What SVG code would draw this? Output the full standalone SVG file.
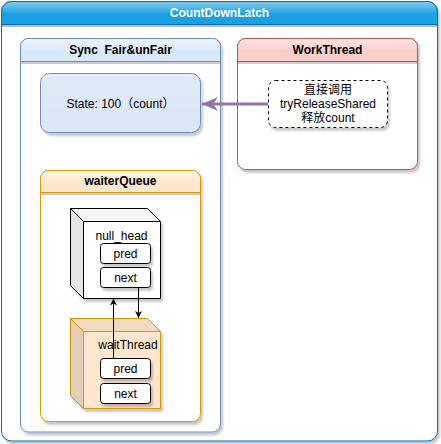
<svg xmlns="http://www.w3.org/2000/svg" width="441" height="444" viewBox="0 0 441 444">
<defs>
<filter id="sh" x="-10%" y="-10%" width="130%" height="130%">
<feGaussianBlur in="SourceAlpha" stdDeviation="1"/>
<feOffset dx="2" dy="3" result="o"/>
<feFlood flood-color="#000" flood-opacity="0.22"/>
<feComposite in2="o" operator="in"/>
<feMerge><feMergeNode/><feMergeNode in="SourceGraphic"/></feMerge>
</filter>
<linearGradient id="glass" x1="0" y1="0" x2="0" y2="1">
<stop offset="0" stop-color="#fff" stop-opacity="0.9"/>
<stop offset="1" stop-color="#fff" stop-opacity="0.1"/>
</linearGradient>
<linearGradient id="stateG" x1="0" y1="0" x2="0" y2="1">
<stop offset="0" stop-color="#dae8fc" stop-opacity="0.6"/>
<stop offset="1" stop-color="#dae8fc"/>
</linearGradient>
<marker id="ab" viewBox="0 0 10 10" refX="10" refY="5" markerWidth="7" markerHeight="7" markerUnits="userSpaceOnUse" orient="auto">
<path d="M0,0 L10,5 L0,10 L3,5 Z" fill="#000"/>
</marker>
<marker id="ap" viewBox="0 0 16 14" refX="16" refY="7" markerWidth="16" markerHeight="14" markerUnits="userSpaceOnUse" orient="auto">
<path d="M0,0 L16,7 L0,14 L5,7 Z" fill="#9673a6"/>
</marker>
</defs>
<style>
text{font-family:"Liberation Sans",Arial,"Noto Sans CJK SC",sans-serif;font-size:12px;text-anchor:middle;fill:#000}
.b{font-weight:bold}
.w{fill:#fff}
.hdl{stroke-width:1;fill:none}
.sub{fill:#fff;stroke:#000;stroke-width:1}
.con{stroke:#000;stroke-width:1;fill:none}
</style>

<g id="CountDownLatch">
<path d="M1.5,11.5 a10,10 0 0 1 10,-10 h416 a10,10 0 0 1 10,10 V431 a10,10 0 0 1 -10,10 h-416 a10,10 0 0 1 -10,-10 Z" fill="#fff" stroke="#006eaf" filter="url(#sh)"/>
<path d="M1.5,11.5 a10,10 0 0 1 10,-10 h416 a10,10 0 0 1 10,10 V24.5 H1.5 Z" fill="#1ba1e2" stroke="#006eaf"/>
<path d="M2,11.5 a9.5,9.5 0 0 1 9.5,-9.5 h416 a9.5,9.5 0 0 1 9.5,9.5 V13 H2 Z" fill="url(#glass)" opacity="0.5"/>
<line x1="2" y1="26" x2="437" y2="26" stroke="#bbb" stroke-width="2"/>
<text class="b w" x="219.5" y="17">CountDownLatch</text>
</g>

<g id="Sync">
<path d="M20.5,46.5 a8,8 0 0 1 8,-8 h184 a8,8 0 0 1 8,8 V424 a8,8 0 0 1 -8,8 h-184 a8,8 0 0 1 -8,-8 Z" fill="#fff" stroke="#6c8ebf" filter="url(#sh)"/>
<path d="M20.5,46.5 a8,8 0 0 1 8,-8 h184 a8,8 0 0 1 8,8 V61.5 H20.5 Z" fill="#dae8fc" stroke="#6c8ebf"/>
<path d="M21,46.5 a7.5,7.5 0 0 1 7.5,-7.5 h184 a7.5,7.5 0 0 1 7.5,7.5 V50 H21 Z" fill="url(#glass)" opacity="0.6"/>
<line x1="21" y1="63" x2="220" y2="63" stroke="#bbb" stroke-width="1.5"/>
<text class="b" x="120.5" y="54" xml:space="preserve">Sync  Fair&amp;unFair</text>
</g>

<g id="State">
<rect x="40.5" y="73.5" width="160" height="59" rx="9" fill="url(#stateG)" stroke="#6c8ebf" filter="url(#sh)"/>
<text x="120.5" y="107.5">State: 100（count）</text>
</g>

<g id="WorkThread">
<path d="M237.5,46.5 a8,8 0 0 1 8,-8 h164 a8,8 0 0 1 8,8 V161.5 a8,8 0 0 1 -8,8 h-164 a8,8 0 0 1 -8,-8 Z" fill="#fff" stroke="#b85450" filter="url(#sh)"/>
<path d="M237.5,46.5 a8,8 0 0 1 8,-8 h164 a8,8 0 0 1 8,8 V61.5 H237.5 Z" fill="#f8cecc" stroke="#b85450"/>
<path d="M238,46.5 a7.5,7.5 0 0 1 7.5,-7.5 h164 a7.5,7.5 0 0 1 7.5,7.5 V50 H238 Z" fill="url(#glass)" opacity="0.5"/>
<line x1="238" y1="63" x2="417" y2="63" stroke="#bbb" stroke-width="1.5"/>
<text class="b" x="327.5" y="54">WorkThread</text>
</g>

<g id="release">
<rect x="268.5" y="80.5" width="119" height="47" rx="7" fill="#fff" stroke="#000" stroke-dasharray="3 3" filter="url(#sh)"/>
<text x="328" y="94">直接调用</text>
<text x="328" y="108">tryReleaseShared</text>
<text x="328" y="122">释放count</text>
</g>

<g id="waiterQueue">
<path d="M40.5,178.5 a8,8 0 0 1 8,-8 h144 a8,8 0 0 1 8,8 V413.5 a8,8 0 0 1 -8,8 h-144 a8,8 0 0 1 -8,-8 Z" fill="#fff" stroke="#d79b00" filter="url(#sh)"/>
<path d="M40.5,178.5 a8,8 0 0 1 8,-8 h144 a8,8 0 0 1 8,8 V192.5 H40.5 Z" fill="#ffe6cc" stroke="#d79b00"/>
<path d="M41,178.5 a7.5,7.5 0 0 1 7.5,-7.5 h144 a7.5,7.5 0 0 1 7.5,7.5 V182 H41 Z" fill="url(#glass)" opacity="0.6"/>
<line x1="41" y1="194" x2="200" y2="194" stroke="#bbb" stroke-width="1.5"/>
<text class="b" x="120.5" y="185">waiterQueue</text>
</g>

<g id="null_head">
<g filter="url(#sh)">
<path d="M70.5,208.5 H147.5 L160.5,221.5 V298.5 H83.5 L70.5,285.5 Z" fill="#fff" stroke="#000"/>
</g>
<path d="M70.5,208.5 H147.5 L160.5,221.5 H83.5 Z" fill="#000" fill-opacity="0.03"/>
<path d="M70.5,208.5 L83.5,221.5 V298.5 L70.5,285.5 Z" fill="#000" fill-opacity="0.1"/>
<path d="M70.5,208.5 L83.5,221.5 H160.5 M83.5,221.5 V298.5" fill="none" stroke="#000"/>
<text x="121.5" y="240">null_head</text>
<rect class="sub" x="100.5" y="243.5" width="50" height="20" rx="3" filter="url(#sh)"/>
<text x="125.5" y="258">pred</text>
<rect class="sub" x="100.5" y="267.5" width="50" height="20" rx="3" filter="url(#sh)"/>
<text x="125.5" y="282">next</text>
</g>

<g id="waitThread">
<g filter="url(#sh)">
<path d="M70.5,318.5 H147.5 L160.5,331.5 V408.5 H83.5 L70.5,395.5 Z" fill="#ffe6cc" stroke="#d79b00"/>
</g>
<path d="M70.5,318.5 H147.5 L160.5,331.5 H83.5 Z" fill="#000" fill-opacity="0.05"/>
<path d="M70.5,318.5 L83.5,331.5 V408.5 L70.5,395.5 Z" fill="#000" fill-opacity="0.1"/>
<path d="M70.5,318.5 L83.5,331.5 H160.5 M83.5,331.5 V408.5" fill="none" stroke="#d79b00"/>
<text x="128" y="349">waitThread</text>
<rect class="sub" x="100.5" y="358.5" width="50" height="20" rx="3" filter="url(#sh)"/>
<text x="125.5" y="373">pred</text>
<rect class="sub" x="100.5" y="383.5" width="50" height="20" rx="3" filter="url(#sh)"/>
<text x="125.5" y="398">next</text>
</g>

<g id="connectors">
<line x1="268" y1="104" x2="202" y2="104" stroke="#9673a6" stroke-width="3" marker-end="url(#ap)"/>
<line class="con" x1="138.5" y1="288" x2="138.5" y2="318" marker-end="url(#ab)"/>
<line class="con" x1="113.5" y1="358" x2="113.5" y2="298.5" marker-end="url(#ab)"/>
</g>
</svg>
